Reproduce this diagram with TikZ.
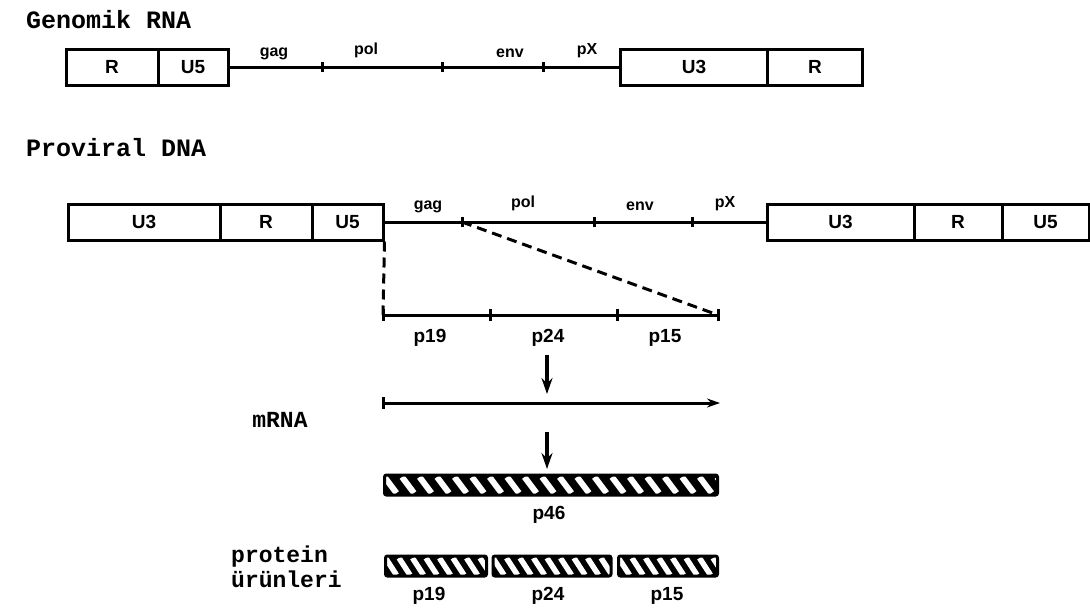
\documentclass[tikz,border=0pt]{standalone}
\usepackage{fontspec}
\setmainfont{Liberation Sans}
\newfontfamily\tw{Liberation Mono}
\usetikzlibrary{arrows.meta}
\begin{document}
\begin{tikzpicture}[x=1pt,y=-1pt,
  seg/.style={draw, line width=3pt, inner sep=0pt, minimum height=36pt,
    font=\fontsize{19}{19}\selectfont\bfseries},
  gene/.style={anchor=south, inner sep=0pt, font=\fontsize{16}{16}\selectfont\bfseries},
  plab/.style={inner sep=0pt, font=\fontsize{19}{19}\selectfont\bfseries},
  twlab/.style={inner sep=0pt, anchor=west, font=\fontsize{25}{25}\selectfont\tw\bfseries},
  twsmall/.style={inner sep=0pt, anchor=west, font=\fontsize{23}{23}\selectfont\tw\bfseries},
  mainline/.style={line width=3pt},
  tick/.style={line width=3pt},
  dash line/.style={line width=3pt, dash pattern=on 10pt off 6pt},
  flow/.style={line width=3.4pt, -{Stealth[length=16pt,width=11pt]}},
  bar/.style={draw, line width=3pt, rounded corners=2pt, fill=black, inner sep=0pt,
    minimum height=20pt,
    path picture={\foreach \i in {-2,...,30}
      \draw[white, line width=6pt]
        ([xshift=\i*17.5pt,yshift=-2pt]path picture bounding box.north west) -- ++(12pt,-16pt);}},
  sbar/.style={bar,
    path picture={\foreach \i in {-2,...,20}
      \draw[white, line width=5.5pt]
        ([xshift=\i*13.5pt,yshift=-2pt]path picture bounding box.north west) -- ++(11pt,-17pt);}}
]
\useasboundingbox (0,0) rectangle (1090,614);

% ---------- Genomik RNA ----------
\node[twlab] (tg) at (26,20) {Genomik RNA};
\node[seg, minimum width=92pt] (gR) at (112,67) {R};
\node[seg, minimum width=70pt] (gU5) at (193,67) {U5};
\node[seg, minimum width=147pt] (gU3) at (694,67) {U3};
\node[seg, minimum width=95pt] (gRb) at (815,67) {R};
\draw[mainline] (gU5.east) -- (gU3.west);
\coordinate (gt1) at (322,67);
\coordinate (gt2) at (442,67);
\coordinate (gt3) at (543,67);
\foreach \t in {gt1,gt2,gt3} \draw[tick] ([yshift=5pt]\t) -- ([yshift=-5pt]\t);
\node[gene] (ggag) at (274,60) {gag};
\node[gene] (gpol) at (366,58) {pol};
\node[gene] (genv) at (510,58) {env};
\node[gene] (gpX) at (587,58) {pX};

% ---------- Proviral DNA ----------
\node[twlab] (tp) at (26,148) {Proviral DNA};
\node[seg, minimum width=152pt] (pU3) at (144,222) {U3};
\node[seg, minimum width=92pt] (pR) at (266,222) {R};
\node[seg, minimum width=71pt] (pU5) at (347.5,222) {U5};
\node[seg, minimum width=147pt] (rU3) at (840.5,222) {U3};
\node[seg, minimum width=88pt] (rR) at (958,222) {R};
\node[seg, minimum width=87pt] (rU5) at (1045.5,222) {U5};
\draw[mainline] (pU5.east) -- (rU3.west);
\coordinate (pt1) at (462,222);
\coordinate (pt2) at (594,222);
\coordinate (pt3) at (692,222);
\foreach \t in {pt1,pt2,pt3} \draw[tick] ([yshift=5pt]\t) -- ([yshift=-5pt]\t);
\node[gene] (pgag) at (428,213) {gag};
\node[gene] (ppol) at (523,211) {pol};
\node[gene] (penv) at (640,211) {env};
\node[gene] (ppX) at (725,211) {pX};

% ---------- gag expansion ----------
\coordinate (el) at (383,315);
\coordinate (e1) at (490,315);
\coordinate (e2) at (617,315);
\coordinate (er) at (718,315);
\draw[dash line] (pU5.south east) -- (el);
\draw[dash line] (pt1) -- (er);
\draw[mainline] (el) -- (er);
\foreach \t in {el,e1,e2,er} \draw[tick] ([yshift=6pt]\t) -- ([yshift=-6pt]\t);
\node[plab] (l19) at (430,338) {p19};
\node[plab] (l24) at (548,338) {p24};
\node[plab] (l15) at (665,338) {p15};

% ---------- mRNA ----------
\coordinate (a1s) at (547,355);
\coordinate (a1e) at (547,394);
\draw[flow] (a1s) -- (a1e);
\coordinate (ml) at (383,403);
\coordinate (mr) at (720,403);
\draw[line width=3pt, -{Stealth[length=13pt,width=9pt]}] (ml) -- (mr);
\draw[tick] ([yshift=6pt]ml) -- ([yshift=-6pt]ml);
\node[twsmall, anchor=center] (tm) at (280,420) {mRNA};
\coordinate (a2s) at (547,432);
\coordinate (a2e) at (547,469);
\draw[flow] (a2s) -- (a2e);

% ---------- p46 ----------
\node[bar, minimum width=333pt] (b46) at (551,485) {};
\node[plab] (l46) at (549,515) {p46};

% ---------- protein products ----------
\node[twsmall] (tpr1) at (231,557) {protein};
\node[twsmall] (tpr2) at (231,579) {ürünleri};
\node[sbar, minimum width=101pt] (b19) at (436,566) {};
\node[sbar, minimum width=118pt] (b24) at (552,566) {};
\node[sbar, minimum width=99pt] (b15) at (668,566) {};
\node[plab] (m19) at (429,596) {p19};
\node[plab] (m24) at (548,596) {p24};
\node[plab] (m15) at (667,596) {p15};
\end{tikzpicture}
\end{document}
